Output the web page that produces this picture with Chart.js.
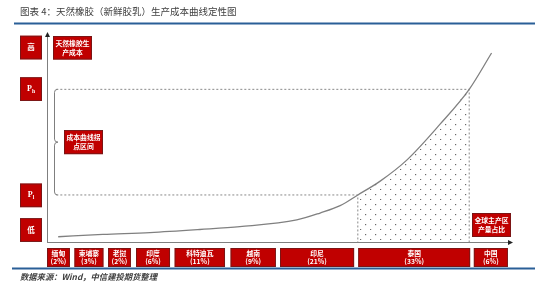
<!DOCTYPE html>
<html><head><meta charset="utf-8">
<script src="https://cdn.jsdelivr.net/npm/chart.js@4/dist/chart.umd.min.js"></script>
<style>
html,body{margin:0;padding:0;background:#fff;}
#wrap{position:relative;width:550px;height:293px;overflow:hidden;}
#title{position:absolute;left:20px;top:4px;font:9.5px "Noto Sans CJK SC",sans-serif;color:#404040;white-space:nowrap;}
#source{position:absolute;left:20px;top:270px;font:italic bold 8.3px "Noto Sans CJK SC",sans-serif;color:#404040;white-space:nowrap;}
canvas{position:absolute;left:0;top:0;}
</style></head>
<body><div id="wrap">
<canvas id="c" width="550" height="293"></canvas>
<div id="title">图表 4：天然橡胶（新鲜胶乳）生产成本曲线定性图</div>
<div id="source">数据来源：Wind，中信建投期货整理</div>
</div>
<script>
// ---- data ----
const categories = ['缅甸','柬埔寨','老挝','印度','科特迪瓦','越南','印尼','泰国','中国'];
const shares = [2,3,2,6,11,9,21,33,6];
const segStart = [0, 5.9, 13.1, 19.1, 27.4, 39.4, 50.0, 66.8, 91.6];
const segEnd   = [4.9, 12.1, 18.0, 26.4, 38.2, 49.1, 65.9, 90.8, 98.9];
const curveX = [2.4, 12, 22.1, 32.8, 41.4, 53.6, 58.6, 62.9, 66.7, 71.5, 77.2, 84.3, 90.6, 95.4];
const curveY = [2.5, 3.6, 4.5, 5.95, 7.3, 10.5, 13.8, 17.3, 22.4, 29.0, 39.0, 56.0, 72.7, 90.0];
const levelLabels = ['高','P|h','P|l','低'];
const levelValues = [92.6, 72.8, 22.2, 5.7];
const priceLowX = 66.7, priceLow = 22.4;
const priceHighX = 90.6, priceHigh = 72.7;
const dashStartX = 2.0;

const curvePts = curveX.map((x,i)=>({x, y:curveY[i]}));
const hatchPts = curvePts.filter(p=>p.x>=priceLowX && p.x<=priceHighX);

// dotted hatch pattern (diagonal "/" dotted lines)
const pc = document.createElement('canvas'); pc.width=10; pc.height=10;
const pctx = pc.getContext('2d');
pctx.fillStyle='#6a6a6a';
[[0,9],[5,4]].forEach(([a,b])=>pctx.fillRect(a,b,1.2,1.2));
const ctx0 = document.getElementById('c').getContext('2d');
const pattern = ctx0.createPattern(pc,'repeat');

function drawBox(ctx,x1,y1,x2,y2,lines,font,lh){
  ctx.save();
  ctx.fillStyle='#C00000';
  ctx.fillRect(x1,y1,x2-x1,y2-y1);
  ctx.strokeStyle='#6b1a1a'; ctx.lineWidth=0.8;
  ctx.strokeRect(x1+0.4,y1+0.4,x2-x1-0.8,y2-y1-0.8);
  ctx.fillStyle='#fff'; ctx.textAlign='center'; ctx.textBaseline='middle';
  ctx.font=font;
  const cx=(x1+x2)/2, cy=(y1+y2)/2;
  const n=lines.length;
  lines.forEach((t,i)=>{
    const y=cy+(i-(n-1)/2)*lh;
    if(t.includes('|')){
      const [m,s]=t.split('|');
      ctx.font='bold 8px "Liberation Serif",serif';
      const w1=ctx.measureText(m).width;
      ctx.font='bold 5.5px "Liberation Serif",serif';
      const w2=ctx.measureText(s).width;
      const sx=cx-(w1+w2)/2;
      ctx.textAlign='left';
      ctx.font='bold 8px "Liberation Serif",serif';
      ctx.fillText(m,sx,y);
      ctx.font='bold 5.5px "Liberation Serif",serif';
      ctx.fillText(s,sx+w1,y+2);
      ctx.textAlign='center';
      ctx.font=font;
    } else ctx.fillText(t,cx,y);
  });
  ctx.restore();
}

const decor = {
  id:'decor',
  afterDraw(chart){
    const ctx=chart.ctx, a=chart.chartArea, xs=chart.scales.x, ys=chart.scales.y;
    ctx.save();
    // top & bottom blue rules
    ctx.strokeStyle='#2a5f97'; ctx.lineWidth=2;
    ctx.beginPath(); ctx.moveTo(14,23.5); ctx.lineTo(535,23.5); ctx.stroke();
    ctx.beginPath(); ctx.moveTo(12,268.5); ctx.lineTo(535,268.5); ctx.stroke();
    // axes
    ctx.strokeStyle='#7f7f7f'; ctx.fillStyle='#222'; ctx.lineWidth=1;
    ctx.beginPath(); ctx.moveTo(a.left+0.5,a.bottom); ctx.lineTo(a.left+0.5,a.top+4); ctx.stroke();
    ctx.beginPath(); ctx.moveTo(a.left,a.bottom+0.5); ctx.lineTo(a.right-4,a.bottom+0.5); ctx.stroke();
    ctx.beginPath(); ctx.moveTo(a.left+0.5,a.top); ctx.lineTo(a.left-2,a.top+5); ctx.lineTo(a.left+3,a.top+5); ctx.closePath(); ctx.fill();
    ctx.beginPath(); ctx.moveTo(a.right,a.bottom+0.5); ctx.lineTo(a.right-5,a.bottom-2); ctx.lineTo(a.right-5,a.bottom+3); ctx.closePath(); ctx.fill();
    // brace
    const yt=ys.getPixelForValue(priceHigh), yb=ys.getPixelForValue(priceLow), ym=(yt+yb)/2;
    ctx.strokeStyle='#7f7f7f'; ctx.lineWidth=1;
    ctx.beginPath();
    ctx.moveTo(57.5,yt); ctx.quadraticCurveTo(54.5,yt,54.5,yt+3);
    ctx.lineTo(54.5,ym-3); ctx.quadraticCurveTo(54.5,ym,58,ym);
    ctx.quadraticCurveTo(54.5,ym,54.5,ym+3);
    ctx.lineTo(54.5,yb-3); ctx.quadraticCurveTo(54.5,yb,57.5,yb);
    ctx.stroke();
    ctx.restore();
    // country boxes
    const f='bold 6.8px "Noto Sans CJK SC",sans-serif';
    categories.forEach((c,i)=>{
      drawBox(ctx,xs.getPixelForValue(segStart[i]),248,xs.getPixelForValue(segEnd[i]),267,[c,'('+shares[i]+'%)'],f,8.5);
    });
    // level boxes
    levelLabels.forEach((l,i)=>{
      const cy=ys.getPixelForValue(levelValues[i]);
      drawBox(ctx,20,cy-11.8,42,cy+11.8,[l],'bold 7.5px "Noto Sans CJK SC",sans-serif',8);
    });
    drawBox(ctx,53,36,92,59.5,['天然橡胶生','产成本'],f,8.5);
    drawBox(ctx,64,ym-12,103,ym+12,['成本曲线拐','点区间'],f,8.5);
    drawBox(ctx,472,213,511,237,['全球主产区','产量占比'],f,8.5);
  }
};

new Chart(document.getElementById('c'),{
  type:'scatter',
  data:{datasets:[
    {data:hatchPts, showLine:true, cubicInterpolationMode:'monotone', borderWidth:0, borderColor:'rgba(0,0,0,0)', backgroundColor:pattern, fill:'origin', pointRadius:0},
    {data:[{x:dashStartX,y:priceHigh},{x:priceHighX,y:priceHigh},{x:priceHighX,y:0}], showLine:true, borderColor:'#888', borderWidth:1, borderDash:[2,2], pointRadius:0, fill:false},
    {data:[{x:dashStartX,y:priceLow},{x:priceLowX,y:priceLow},{x:priceLowX,y:0}], showLine:true, borderColor:'#888', borderWidth:1, borderDash:[2,2], pointRadius:0, fill:false},
    {data:curvePts, showLine:true, cubicInterpolationMode:'monotone', borderColor:'#808080', borderWidth:1.3, pointRadius:0, fill:false}
  ]},
  options:{
    responsive:false, animation:false, devicePixelRatio:1,
    layout:{padding:{left:47,top:32,right:37,bottom:51}},
    plugins:{legend:{display:false},tooltip:{enabled:false}},
    scales:{x:{type:'linear',min:0,max:100,display:false},y:{min:0,max:100,display:false}}
  },
  plugins:[decor]
});
</script>
</body></html>
